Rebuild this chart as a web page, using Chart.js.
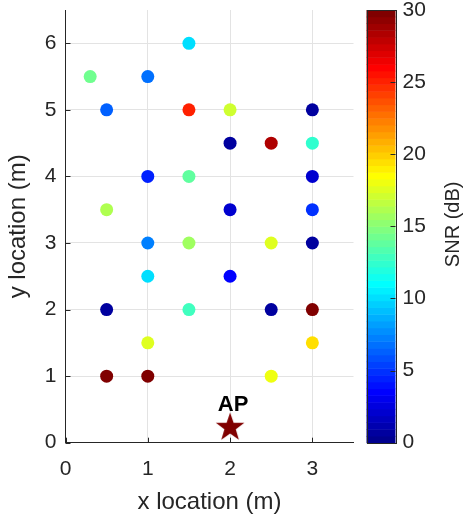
<!DOCTYPE html>
<html>
<head>
<meta charset="utf-8">
<script src="https://cdn.jsdelivr.net/npm/chart.js@4"></script>
<style>
  html, body { margin: 0; padding: 0; background: #fff; }
  canvas { display: block; }
</style>
</head>
<body>
<canvas id="snr-map" width="464" height="518"></canvas>
<script>
// measurement points (m) and their SNR (dB)
const xLoc = [0.3, 1, 1.5, 0.5, 1.5, 2, 3, 2, 2.5, 3, 1, 1.5, 3, 0.5, 2, 3,
              1, 1.5, 2.5, 3, 1, 2, 0.5, 1.5, 2.5, 3, 1, 3, 0.5, 1, 2.5];
const yLoc = [5.5, 5.5, 6, 5, 5, 5, 5, 4.5, 4.5, 4.5, 4, 4, 4, 3.5, 3.5, 3.5,
              3, 3, 3, 3, 2.5, 2.5, 2, 2, 2, 2, 1.5, 1.5, 1, 1, 1];
const snr  = [14.3, 6.7, 10.3, 6.2, 25.3, 16.9, 0.5, 0.5, 28.3, 12.2, 4.5, 14.0, 2.3, 16.4, 2.3, 4.7,
              7.3, 15.7, 17.5, 0.5, 10.3, 3.6, 0.5, 12.7, 0.5, 30, 17.8, 19.3, 30, 30, 18.2];

// access point
const apX = [2];
const apY = [0.25];
const apName = 'AP';

const xTicks = [0, 1, 2, 3];
const yTicks = [0, 1, 2, 3, 4, 5, 6];
const snrTicks = [0, 5, 10, 15, 20, 25, 30];
const snrMin = 0, snrMax = 30;

const FONT = '"Liberation Sans", Arial, Helvetica, sans-serif';
const INK = '#262626';

// MATLAB jet(64)
function jetRGB(i) {
  let r = 0, g = 0, b = 0;
  if (i <= 8) b = (i + 8) / 16; else if (i <= 23) b = 1; else if (i <= 39) b = (40 - i) / 16;
  if (i >= 9 && i <= 24) g = (i - 8) / 16; else if (i >= 25 && i <= 39) g = 1; else if (i >= 40 && i <= 55) g = (56 - i) / 16;
  if (i >= 25 && i <= 40) r = (i - 24) / 16; else if (i >= 41 && i <= 55) r = 1; else if (i >= 56) r = (72 - i) / 16;
  return 'rgb(' + Math.round(r * 255) + ',' + Math.round(g * 255) + ',' + Math.round(b * 255) + ')';
}
function snrColor(v) {
  let i = Math.floor((v - snrMin) / (snrMax - snrMin) * 64) + 1;
  i = Math.max(1, Math.min(64, i));
  return jetRGB(i);
}

// five pointed star marker
function makeStar(size, color) {
  const c = document.createElement('canvas');
  c.width = size; c.height = size;
  const g = c.getContext('2d');
  const cx = size / 2, cy = size / 2 + 1.5, R = size / 2, r = R * 0.4;
  g.beginPath();
  for (let k = 0; k < 10; k++) {
    const a = -Math.PI / 2 + k * Math.PI / 5;
    const rad = k % 2 === 0 ? R : r;
    g.lineTo(cx + rad * Math.cos(a), cy + rad * Math.sin(a));
  }
  g.closePath();
  g.fillStyle = color;
  g.fill();
  return c;
}

// keep tick padding from pushing the plot area down
function noVerticalPad(s) { s.paddingTop = 0; s.paddingBottom = 0; }

const points = xLoc.map((x, i) => ({x: x, y: yLoc[i]}));
const apPoints = apX.map((x, i) => ({x: x, y: apY[i]}));

const extras = {
  id: 'extras',
  beforeDraw(chart) {
    const ctx = chart.ctx;
    ctx.save();
    ctx.fillStyle = '#fff';
    ctx.fillRect(0, 0, chart.width, chart.height);
    ctx.restore();
  },
  afterDraw(chart) {
    const ctx = chart.ctx;
    const area = chart.chartArea;
    const xs = chart.scales.x, ys = chart.scales.y, cs = chart.scales.c;
    ctx.save();

    // inward ticks
    ctx.strokeStyle = INK;
    ctx.lineWidth = 1;
    ctx.beginPath();
    xs.ticks.forEach(t => {
      const px = Math.round(xs.getPixelForValue(t.value)) + 0.5;
      ctx.moveTo(px, area.bottom); ctx.lineTo(px, area.bottom - 5);
    });
    ys.ticks.forEach(t => {
      const py = Math.round(ys.getPixelForValue(t.value)) + 0.5;
      ctx.moveTo(area.left, py); ctx.lineTo(area.left + 5, py);
    });
    ctx.stroke();

    // colorbar
    const cbL = area.right + 13, cbR = area.right + 42;
    for (let k = 0; k < 64; k++) {
      const y0 = cs.getPixelForValue(snrMin + k * (snrMax - snrMin) / 64);
      const y1 = cs.getPixelForValue(snrMin + (k + 1) * (snrMax - snrMin) / 64);
      ctx.fillStyle = jetRGB(k + 1);
      ctx.fillRect(cbL, y1, cbR - cbL, y0 - y1 + 0.5);
    }
    ctx.strokeStyle = INK;
    ctx.strokeRect(Math.round(cbL) + 0.5, Math.round(cs.top) + 0.5, Math.round(cbR - cbL), Math.round(cs.bottom - cs.top));
    ctx.beginPath();
    cs.ticks.forEach(t => {
      const py = Math.round(cs.getPixelForValue(t.value)) + 0.5;
      ctx.moveTo(cbR, py); ctx.lineTo(cbR - 5, py);
    });
    ctx.stroke();

    // colorbar title
    ctx.fillStyle = INK;
    ctx.font = '20px ' + FONT;
    ctx.textAlign = 'center';
    ctx.textBaseline = 'middle';
    ctx.translate(453, (cs.top + cs.bottom) / 2 - 2);
    ctx.rotate(-Math.PI / 2);
    ctx.fillText('SNR (dB)', 0, 0);
    ctx.setTransform(1, 0, 0, 1, 0, 0);

    // access point label
    ctx.font = 'bold 22px ' + FONT;
    ctx.fillStyle = '#000';
    ctx.textAlign = 'center';
    ctx.textBaseline = 'alphabetic';
    ctx.fillText(apName, xs.getPixelForValue(apX[0]) + 3, ys.getPixelForValue(apY[0]) - 15);
    ctx.restore();
  }
};

const ctx = document.getElementById('snr-map');

const chart = new Chart(ctx, {
  type: 'scatter',
  data: {
    datasets: [{
      label: 'SNR',
      data: points,
      backgroundColor: snr.map(snrColor),
      borderWidth: 0,
      pointRadius: 6.5,
      pointHoverRadius: 6.5
    }, {
      label: apName,
      data: apPoints,
      pointStyle: makeStar(30, '#800000'),
      pointRadius: 15
    }]
  },
  options: {
    responsive: false,
    animation: false,
    events: [],
    layout: { autoPadding: false, padding: { top: 10, left: 0, right: 0, bottom: 0 } },
    plugins: { legend: { display: false }, tooltip: { enabled: false } },
    scales: {
      x: {
        type: 'linear',
        min: 0, max: 3.5,
        afterBuildTicks: s => { s.ticks = xTicks.map(v => ({value: v})); },
        afterFit: s => { s.height = 75.3; s.paddingLeft = 0; s.paddingRight = 0; },
        grid: { color: '#e3e3e3', drawTicks: false },
        border: { color: INK, width: 1 },
        ticks: { color: INK, font: { family: FONT, size: 21 }, padding: 14, maxRotation: 0 },
        title: { display: true, text: 'x location (m)', color: INK, font: { family: FONT, size: 24 }, padding: { top: 0, bottom: 1 } }
      },
      y: {
        type: 'linear',
        min: 0, max: 6.5,
        afterBuildTicks: s => { s.ticks = yTicks.map(v => ({value: v})); },
        afterFit: s => { s.width = 65.5; noVerticalPad(s); },
        grid: { color: '#e3e3e3', drawTicks: false },
        border: { color: INK, width: 1 },
        ticks: { color: INK, font: { family: FONT, size: 21 }, padding: 9 },
        title: { display: true, text: 'y location (m)', color: INK, font: { family: FONT, size: 24 }, padding: { top: 4, bottom: 0 } }
      },
      c: {
        type: 'linear',
        position: 'right',
        min: snrMin, max: snrMax,
        afterBuildTicks: s => { s.ticks = snrTicks.map(v => ({value: v})); },
        afterFit: s => { s.width = 110.5; noVerticalPad(s); },
        grid: { display: false, drawTicks: false },
        border: { display: false },
        ticks: { color: INK, font: { family: FONT, size: 21 }, padding: 49 }
      }
    }
  },
  plugins: [extras]
});
</script>
</body>
</html>
